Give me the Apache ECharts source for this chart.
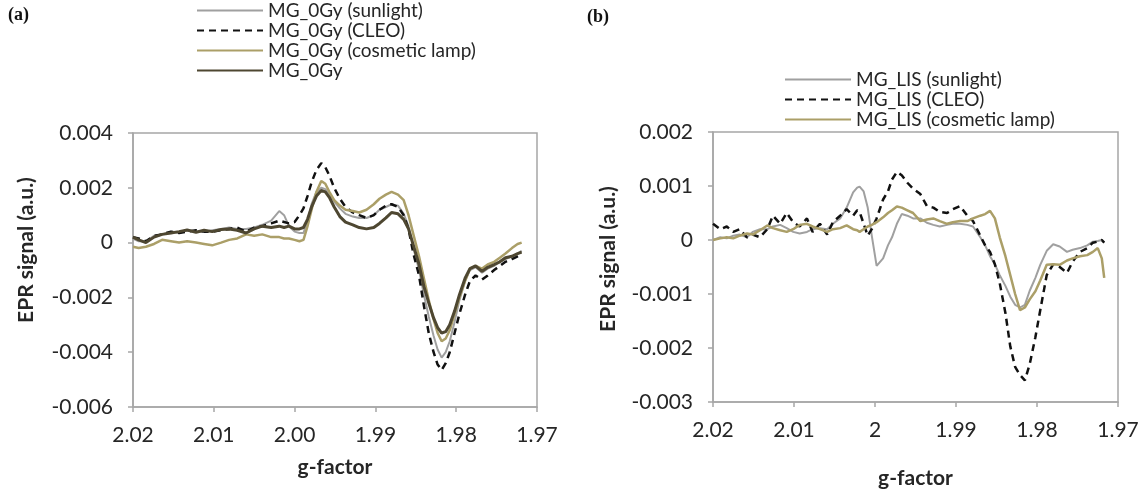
<!DOCTYPE html>
<html><head><meta charset="utf-8">
<script src="https://cdn.jsdelivr.net/npm/echarts@6/dist/echarts.min.js"></script>
<style>html,body{margin:0;padding:0;background:#fff}#c{width:1145px;height:494px}</style>
</head><body><div id="c"></div>
<script>
// ---------- Panel (a) data ----------
const gA = [2.0200,2.0193,2.0184,2.0174,2.0164,2.0153,2.0143,2.0133,2.0122,2.0112,2.0102,2.0091,2.0081,2.0071,2.0060,2.0050,2.0040,2.0029,2.0019,2.0013,2.0007,2.0000,1.9994,1.9989,1.9984,1.9979,1.9973,1.9967,1.9962,1.9957,1.9951,1.9944,1.9937,1.9928,1.9920,1.9911,1.9902,1.9895,1.9887,1.9880,1.9872,1.9865,1.9859,1.9853,1.9846,1.9840,1.9834,1.9828,1.9823,1.9818,1.9813,1.9808,1.9802,1.9796,1.9789,1.9783,1.9776,1.9768,1.9761,1.9753,1.9746,1.9739,1.9731,1.9724,1.9719];
const sunA = [0.00015,0.00005,0.00005,0.00025,0.0003,0.0004,0.00035,0.00045,0.0004,0.0004,0.00045,0.0005,0.00055,0.0005,0.0005,0.00055,0.00065,0.0008,0.00115,0.001,0.0006,0.0004,0.00035,0.00035,0.0008,0.0014,0.00185,0.002,0.00195,0.00175,0.0015,0.00125,0.00105,0.00095,0.0009,0.0009,0.001,0.0012,0.0013,0.0014,0.00135,0.00105,0.0006,-0.0002,-0.001,-0.0019,-0.0027,-0.0034,-0.0039,-0.0042,-0.004,-0.0036,-0.0029,-0.0021,-0.0014,-0.001,-0.0009,-0.0011,-0.00095,-0.00085,-0.0007,-0.0006,-0.0005,-0.0004,-0.0003];
const cleoA = [0.0002,0.00015,0.00005,0.00025,0.0003,0.0004,0.00035,0.0004,0.00045,0.0004,0.0004,0.00045,0.0005,0.00055,0.0004,0.00055,0.0006,0.0007,0.0008,0.00075,0.0007,0.00075,0.001,0.00125,0.0017,0.0022,0.00265,0.0029,0.00275,0.00245,0.002,0.0016,0.0013,0.0011,0.001,0.0009,0.001,0.0012,0.00135,0.0014,0.0013,0.001,0.0005,-0.0004,-0.0012,-0.0023,-0.0033,-0.004,-0.00445,-0.00465,-0.0044,-0.004,-0.0033,-0.0026,-0.0019,-0.0014,-0.0012,-0.00135,-0.0012,-0.001,-0.00085,-0.0007,-0.0006,-0.0005,-0.0004];
const cosA = [-0.00015,-0.0002,-0.00015,-0.00005,0.0001,0.00005,0,0.00005,0,-0.00005,-0.0001,0,0.0001,0.00015,0.0003,0.00025,0.0003,0.0002,0.0002,0.00015,0.00015,0.0001,0.00005,0.0001,0.0006,0.0012,0.00185,0.00225,0.00215,0.00185,0.00155,0.00135,0.0012,0.00115,0.0011,0.0012,0.0014,0.0016,0.00175,0.00185,0.00175,0.00155,0.001,0.0003,-0.0005,-0.0013,-0.0021,-0.0028,-0.0033,-0.0036,-0.0035,-0.0032,-0.0026,-0.002,-0.0014,-0.00095,-0.00085,-0.00095,-0.0008,-0.0007,-0.00055,-0.0004,-0.0002,-0.00005,0];
const darkA = [0.0002,0.0001,0,0.0002,0.0003,0.00035,0.0004,0.00046,0.00038,0.00045,0.0004,0.00048,0.0005,0.00045,0.00035,0.0005,0.0006,0.00055,0.0006,0.00055,0.0006,0.0005,0.0005,0.00055,0.00085,0.0013,0.0017,0.0019,0.00185,0.00165,0.0013,0.00095,0.00075,0.00065,0.00055,0.0005,0.00055,0.0007,0.0009,0.0011,0.00105,0.00085,0.0005,-0.0001,-0.0008,-0.0016,-0.0022,-0.00275,-0.0031,-0.0033,-0.00325,-0.003,-0.0025,-0.0019,-0.0013,-0.00095,-0.00085,-0.00105,-0.0009,-0.0008,-0.0007,-0.00055,-0.0005,-0.0004,-0.00035];
const namesA = ['MG_0Gy (sunlight)','MG_0Gy (CLEO)','MG_0Gy (cosmetic lamp)','MG_0Gy'];
const xTicksA = ['2.02','2.01','2.00','1.99','1.98','1.97'];
const yTicksA = ['0.004','0.002','0','-0.002','-0.004','-0.006'];

// ---------- Panel (b) data ----------
const gB = [2.0200,2.0191,2.0183,2.0175,2.0167,2.0158,2.0151,2.0142,2.0133,2.0126,2.0117,2.0109,2.0101,2.0093,2.0084,2.0077,2.0068,2.0059,2.0052,2.0043,2.0035,2.0027,2.0022,2.0019,2.0014,2.0009,2.0004,1.9998,1.9990,1.9984,1.9979,1.9973,1.9967,1.9960,1.9953,1.9944,1.9936,1.9928,1.9920,1.9911,1.9904,1.9895,1.9886,1.9879,1.9870,1.9864,1.9858,1.9852,1.9846,1.9839,1.9833,1.9827,1.9821,1.9815,1.9809,1.9802,1.9796,1.9788,1.9780,1.9772,1.9763,1.9756,1.9747,1.9738,1.9731,1.9725,1.9720,1.9717];
const sunB = [0,0.00005,0.00003,0.00008,0.0001,0.00005,0.00015,0.0002,0.0002,0.00025,0.00028,0.00022,0.00015,0.00012,0.00015,0.0002,0.00022,0.0002,0.0003,0.0004,0.0006,0.00088,0.00097,0.00099,0.0009,0.0006,0.00008,-0.00048,-0.00034,-0.0001,0.00005,0.0003,0.00048,0.00045,0.0004,0.0004,0.00032,0.00028,0.00025,0.00028,0.0003,0.0003,0.00028,0.00025,0.00005,-0.0001,-0.0003,-0.00045,-0.00065,-0.00085,-0.00105,-0.0012,-0.00125,-0.0012,-0.00094,-0.0007,-0.00046,-0.0002,-0.00008,-0.00012,-0.00022,-0.00018,-0.00015,-0.0001,-0.00003,-0.00002,0,-0.00005];
const cleoB = [0.0003,0.0002,0.00025,0.00015,0.0002,0.00005,0.0001,0.00005,0.0002,0.00045,0.0003,0.0005,0.00033,0.00025,0.0004,0.00015,0.0003,0.0001,0.00033,0.00045,0.00057,0.00045,0.00055,0.00052,0.0003,0.00008,0.0002,0.0004,0.00075,0.0009,0.00112,0.00126,0.0012,0.00106,0.00095,0.00085,0.00063,0.0006,0.00052,0.0005,0.00057,0.00063,0.00045,0.00035,0.00008,-0.0001,-0.00022,-0.00045,-0.0008,-0.00135,-0.00197,-0.00235,-0.0025,-0.0026,-0.0023,-0.0018,-0.0013,-0.00065,-0.00045,-0.0005,-0.00061,-0.0004,-0.00022,-0.00015,-0.00005,-0.00003,0,-0.00005];
const cosB = [0,0.00003,0.00005,0.00003,0.00008,0.00012,0.0001,0.00018,0.00027,0.00022,0.00018,0.00015,0.0002,0.00028,0.0003,0.00025,0.0002,0.00015,0.0002,0.00022,0.00027,0.0002,0.00018,0.00015,0.0002,0.00025,0.00028,0.00033,0.00042,0.0005,0.00055,0.00062,0.0006,0.00055,0.0005,0.00035,0.00038,0.0004,0.00035,0.0003,0.00033,0.00035,0.00035,0.0004,0.00045,0.00048,0.00054,0.0004,0.00005,-0.0003,-0.00065,-0.001,-0.0013,-0.00125,-0.0011,-0.00095,-0.00075,-0.00046,-0.00045,-0.00046,-0.00038,-0.00034,-0.0003,-0.00028,-0.00022,-0.00015,-0.00034,-0.0007];
const namesB = ['MG_LIS (sunlight)','MG_LIS (CLEO)','MG_LIS (cosmetic lamp)'];
const xTicksB = ['2.02','2.01','2','1.99','1.98','1.97'];
const yTicksB = ['0.002','0.001','0','-0.001','-0.002','-0.003'];

// ---------- styles ----------
const FONT = 'Lato';
const AXIS_GRAY = '#a6a6a6';
const TXT = '#262626';
const C_SUN = '#a0a0a0', C_CLEO = '#111111', C_COS = '#ab9f68', C_DARK = '#4e4731';

function pairs(xs, ys){ return xs.map((x,i)=>[x, ys[i]]); }
function xFmt(ticks){ return v => ticks[Math.round((2.02 - v)/0.01)] ?? ''; }
function yFmt(ticks, top, step){ return v => ticks[Math.round((top - v)/step)] ?? ''; }

function xAxis(gi, ticks, gap){
  return {type:'value', gridIndex:gi, min:1.97, max:2.02, interval:0.01, inverse:true,
    name:'g-factor', nameLocation:'middle', nameGap:gap,
    nameTextStyle:{fontFamily:FONT, fontWeight:'bold', fontSize:21, color:TXT},
    axisLine:{show:true, onZero:false, lineStyle:{color:AXIS_GRAY, width:1.5}},
    axisTick:{show:true, length:5, lineStyle:{color:AXIS_GRAY, width:1.5}},
    axisLabel:{formatter:xFmt(ticks), fontFamily:FONT, fontSize:21, color:TXT, margin:18},
    splitLine:{show:false}};
}
function yAxis(gi, min, max, step, ticks, gap, pad){
  return {type:'value', gridIndex:gi, min:min, max:max, interval:step,
    name:'EPR signal (a.u.)', nameLocation:'middle', nameGap:gap, nameRotate:90,
    nameTextStyle:{fontFamily:FONT, fontWeight:'bold', fontSize:21, color:TXT, padding:[0,0,0,pad]},
    axisLine:{show:true, onZero:false, lineStyle:{color:AXIS_GRAY, width:1.5}},
    axisTick:{show:true, length:5, lineStyle:{color:AXIS_GRAY, width:1.5}},
    axisLabel:{formatter:yFmt(ticks, max, step), fontFamily:FONT, fontSize:21, color:TXT, margin:20},
    splitLine:{show:false}};
}
function line(name, xi, xs, ys, color, width, dashed){
  return {name:name, type:'line', xAxisIndex:xi, yAxisIndex:xi, data:pairs(xs, ys),
    symbol:'none', showSymbol:false, smooth:false, silent:true, animation:false,
    lineStyle:{color:color, width:width, type: dashed ? [7,5] : 'solid'},
    itemStyle:{color:color}};
}
function legend(names, left, top){
  return {data:names, orient:'vertical', left:left, top:top, padding:0,
    itemWidth:66, itemHeight:12, itemGap:1,
    itemStyle:{opacity:0},
    textStyle:{fontFamily:FONT, fontSize:19, color:TXT, lineHeight:16}, selectedMode:false};
}

const chart = echarts.init(document.getElementById('c'), null, {renderer:'canvas'});
chart.setOption({
  animation:false,
  backgroundColor:'#fff',
  grid:[
    {left:133, top:133, width:404, height:274, show:true, borderColor:AXIS_GRAY, borderWidth:1.5, backgroundColor:'transparent'},
    {left:713, top:132, width:405, height:275, show:true, borderColor:AXIS_GRAY, borderWidth:1.5, backgroundColor:'transparent'}
  ],
  xAxis:[xAxis(0, xTicksA, 50), xAxis(1, xTicksB, 66)],
  yAxis:[yAxis(0, -0.006, 0.004, 0.002, yTicksA, 96, 40), yAxis(1, -0.003, 0.002, 0.001, yTicksB, 94, 16)],
  legend:[legend(namesA, 196, 1), legend(namesB, 784, 70)],
  graphic:[
    {type:'text', left:8, top:6, style:{text:'(a)', font:'bold 18px "Liberation Serif"', fill:'#111'}},
    {type:'text', left:587, top:8, style:{text:'(b)', font:'bold 18px "Liberation Serif"', fill:'#111'}}
  ],
  series:[
    line(namesA[0], 0, gA, sunA, C_SUN, 2, false),
    line(namesA[1], 0, gA, cleoA, C_CLEO, 2.5, true),
    line(namesA[2], 0, gA, cosA, C_COS, 2.5, false),
    line(namesA[3], 0, gA, darkA, C_DARK, 3, false),
    line(namesB[0], 1, gB, sunB, C_SUN, 2, false),
    line(namesB[1], 1, gB, cleoB, C_CLEO, 2.5, true),
    line(namesB[2], 1, gB, cosB, C_COS, 2.5, false)
  ]
});
</script></body></html>
